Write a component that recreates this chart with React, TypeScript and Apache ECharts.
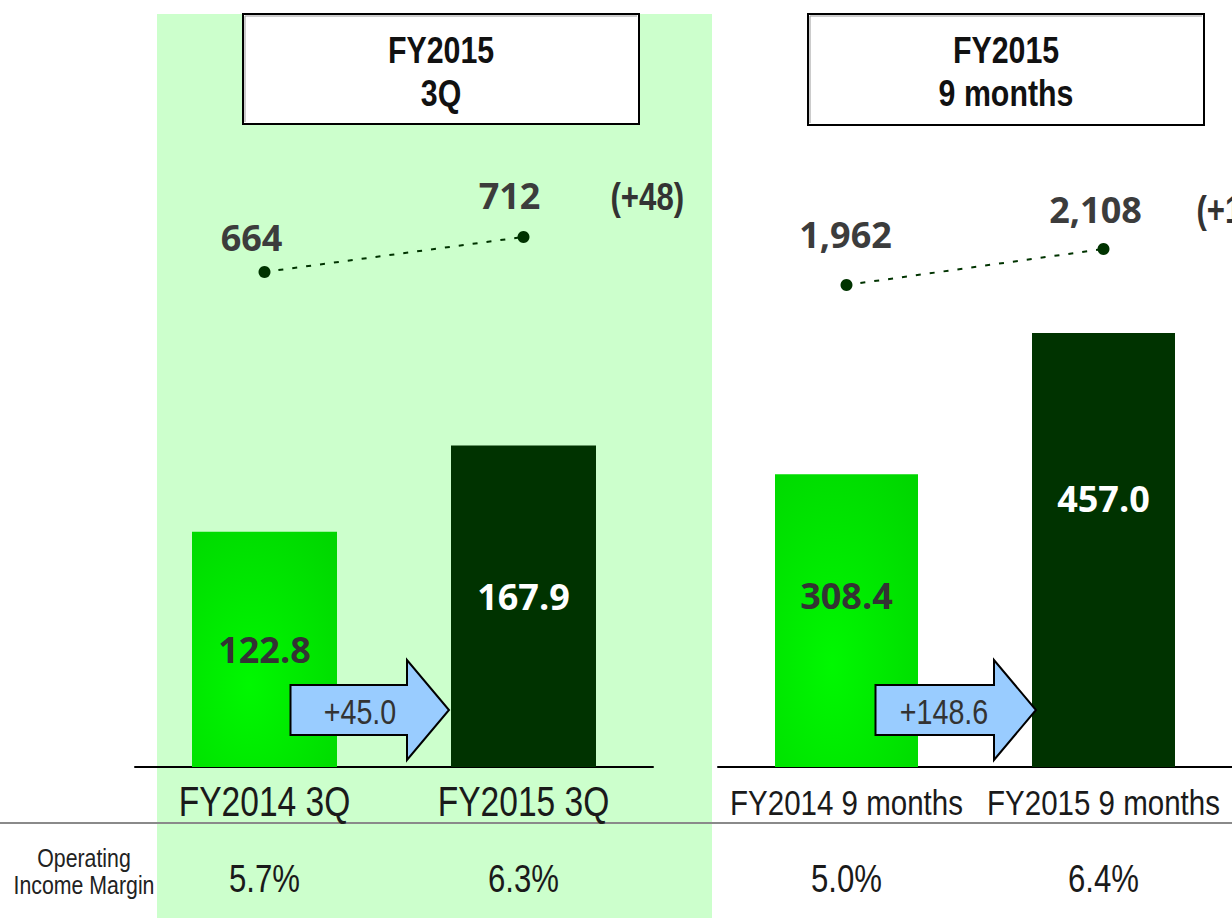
import React, { useEffect, useRef } from "react";
import * as echarts from "echarts";

const categoriesQ = ["FY2014 3Q", "FY2015 3Q"];
const categories9M = ["FY2014 9 months", "FY2015 9 months"];
const incomeQ = [122.8, 167.9];
const income9M = [308.4, 457.0];
const salesQ = [664, 712];
const sales9M = [1962, 2108];
const marginQ = ["5.7%", "6.3%"];
const margin9M = ["5.0%", "6.4%"];
const incomeChangeQ = "+45.0";
const incomeChange9M = "+148.6";
const salesChangeQ = "(+48)";
const salesChange9M = "(+146)";
const headerQ = "FY2015\n3Q";
const header9M = "FY2015\n9 months";
const rowTitle = "Operating\nIncome Margin";

const SANS = "'Liberation Sans', Arial, sans-serif";
const NUM = "'Open Sans', 'DejaVu Sans', sans-serif";
const NARROW_SCALE = 0.82;

const barLabelOffsets = [[0, 0], [0, -10]];
const barLabelOffsets9M = [[0, -25], [0, -52]];
const lineLabelOffsetsQ = [[-13, -5], [-14, -12]];
const lineLabelOffsets9M = [[-1, -21], [-8, -10]];

export default function App() {
  const ref = useRef<HTMLDivElement>(null);
  useEffect(() => {
    if (!ref.current) return;
    const chart = echarts.init(ref.current, null, { renderer: "svg" });
    const green = new echarts.graphic.RadialGradient(0.4, 0.65, 0.85, [
      { offset: 0, color: "#00F800" },
      { offset: 1, color: "#00D600" },
    ]);
    const barColors = [green, "#003300"];
    const barLabelColors = ["#333333", "#FFFFFF"];
    const mkBars = (vals: number[], offs: number[][]) =>
      vals.map((v, i) => ({
        value: v,
        itemStyle: { color: barColors[i] },
        label: { color: barLabelColors[i], offset: offs[i] },
      }));
    const mkLine = (vals: number[], offs: number[][]) =>
      vals.map((v, i) => ({ value: v, label: { offset: offs[i] } }));
    const catAxis = (grid: number, data: string[]) => ({
      gridIndex: grid,
      type: "category",
      data,
      position: "bottom",
      axisLine: { show: true, lineStyle: { color: "#000", width: 2 } },
      axisTick: { show: false },
      axisLabel: { show: false },
      splitLine: { show: false },
    });
    const hiddenY = (grid: number, min: number, max: number) => ({
      gridIndex: grid,
      type: "value",
      min,
      max,
      show: false,
      splitLine: { show: false },
    });
    const barLabel = {
      show: true,
      position: "inside",
      fontSize: 36,
      fontWeight: "bold",
      fontFamily: NUM,
      formatter: (p: any) => Number(p.value).toFixed(1),
    };
    const lineSeries = (xi: number, yi: number, vals: number[], offs: number[][]) => ({
      type: "line",
      xAxisIndex: xi,
      yAxisIndex: yi,
      data: mkLine(vals, offs),
      symbol: "circle",
      symbolSize: 12,
      itemStyle: { color: "#003300" },
      lineStyle: { color: "#003300", width: 2, type: [5, 9] },
      label: {
        show: true,
        position: "top",
        distance: 5,
        fontSize: 36,
        lineHeight: 36,
        fontWeight: "bold",
        fontFamily: NUM,
        color: "#3c3c3c",
        formatter: (p: any) => Number(p.value).toLocaleString("en-US"),
      },
      z: 5,
    });

    chart.setOption({
      animation: false,
      backgroundColor: "#FFFFFF",
      grid: [
        { left: 135, width: 518, top: 192.5, height: 574.5, outerBoundsMode: "none", containLabel: false },
        { left: 718, width: 514, top: 192.5, height: 574.5, outerBoundsMode: "none", containLabel: false },
      ],
      xAxis: [catAxis(0, categoriesQ), catAxis(1, categories9M)],
      yAxis: [hiddenY(0, 0, 300), hiddenY(0, -15, 773), hiddenY(1, 0, 605), hiddenY(1, 7, 2337)],
      series: [
        {
          type: "bar",
          xAxisIndex: 0,
          yAxisIndex: 0,
          barWidth: 145,
          data: mkBars(incomeQ, barLabelOffsets),
          label: barLabel,
        },
        {
          type: "bar",
          xAxisIndex: 1,
          yAxisIndex: 2,
          barWidth: 143,
          data: mkBars(income9M, barLabelOffsets9M),
          label: barLabel,
        },
        lineSeries(0, 1, salesQ, lineLabelOffsetsQ),
        lineSeries(1, 3, sales9M, lineLabelOffsets9M),
      ],
    });

    const px = (seriesIndex: number, idx: number, v: number) =>
      chart.convertToPixel({ seriesIndex }, [idx, v]) as number[];

    const sQ1 = px(2, 1, salesQ[1]);
    const s9M1 = px(3, 1, sales9M[1]);
    const bQ = [px(0, 0, 0), px(0, 1, 0)];
    const b9 = [px(1, 0, 0), px(1, 1, 0)];

    const arrow = (startX: number, tipX: number, cy: number) => {
      const headX = tipX - 42;
      return [
        [startX, cy - 25],
        [headX, cy - 25],
        [headX, cy - 50],
        [tipX, cy],
        [headX, cy + 50],
        [headX, cy + 25],
        [startX, cy + 25],
      ];
    };
    const arrowY = 710;
    const arrowQ = arrow(bQ[0][0] + 26, bQ[1][0] - 72.5 - 2, arrowY);
    const arrow9M = arrow(b9[0][0] + 29, b9[1][0] - 71.5 + 4, arrowY);

    const txt = (text: string, x: number, y: number, extra: any = {}, scaleX = NARROW_SCALE) => ({
      type: "text",
      x,
      y,
      scaleX,
      z: 20,
      style: {
        text,
        align: "center",
        verticalAlign: "middle",
        fill: "#333",
        fontFamily: SANS,
        fontSize: 34,
        ...extra,
      },
    });

    const catTexts: any[] = [];
    categoriesQ.forEach((c, i) => {
      catTexts.push(txt(c, bQ[i][0], 801, { fontSize: 43, fill: "#1a1a1a" }, 0.78));
      catTexts.push(txt(marginQ[i], bQ[i][0], 879, { fontSize: 38, fill: "#1a1a1a" }));
    });
    categories9M.forEach((c, i) => {
      catTexts.push(txt(c, b9[i][0], 802, { fontSize: 36, fill: "#1a1a1a" }));
      catTexts.push(txt(margin9M[i], b9[i][0], 879, { fontSize: 38, fill: "#1a1a1a" }));
    });

    const box = (x: number, y: number, w: number, h: number) => [
      {
        type: "rect",
        z: 10,
        shape: { x, y, width: w, height: h },
        style: { fill: "#fff", stroke: "#000", lineWidth: 2 },
      },
      {
        type: "polyline",
        z: 11,
        shape: { points: [[x + 2, y + h - 2], [x + 2, y + 2], [x + w - 2, y + 2]] },
        style: { stroke: "#9a9a9a", lineWidth: 1, fill: "none" },
      },
    ];

    chart.setOption({
      graphic: [
        {
          type: "rect",
          z: -100,
          shape: { x: 157, y: 14, width: 555, height: 904 },
          style: { fill: "#CCFFCC" },
        },
        {
          type: "line",
          z: -50,
          shape: { x1: 0, y1: 823, x2: 1232, y2: 823 },
          style: { stroke: "#8a8a8a", lineWidth: 2 },
        },
        ...box(243, 14, 396, 110),
        txt(headerQ, 441, 71, { fontWeight: "bold", fontSize: 37, lineHeight: 43, fill: "#111" }),
        ...box(808, 14, 396, 111),
        txt(header9M, 1006, 71, { fontWeight: "bold", fontSize: 37, lineHeight: 43, fill: "#111" }),
        {
          type: "polygon",
          z: 10,
          shape: { points: arrowQ },
          style: { fill: "#99CCFF", stroke: "#000", lineWidth: 2 },
        },
        txt(incomeChangeQ, 360, arrowY + 2, { fontSize: 35 }),
        {
          type: "polygon",
          z: 10,
          shape: { points: arrow9M },
          style: { fill: "#99CCFF", stroke: "#000", lineWidth: 2 },
        },
        txt(incomeChange9M, 944, arrowY + 2, { fontSize: 35 }),
        txt(salesChangeQ, sQ1[0] + 87, sQ1[1] - 40, {
          align: "left",
          fontWeight: "bold",
          fontSize: 38,
          fill: "#333",
        }),
        txt(salesChange9M, s9M1[0] + 93, s9M1[1] - 39, {
          align: "left",
          fontWeight: "bold",
          fontSize: 38,
          fill: "#333",
        }),
        txt(rowTitle, 84, 871, { fontSize: 26, lineHeight: 27, fill: "#222" }),
        ...catTexts,
      ],
    });

    return () => chart.dispose();
  }, []);

  return (
    <div
      ref={ref}
      style={{ position: "fixed", left: 0, top: 0, width: 1232, height: 918, background: "#fff" }}
    />
  );
}
